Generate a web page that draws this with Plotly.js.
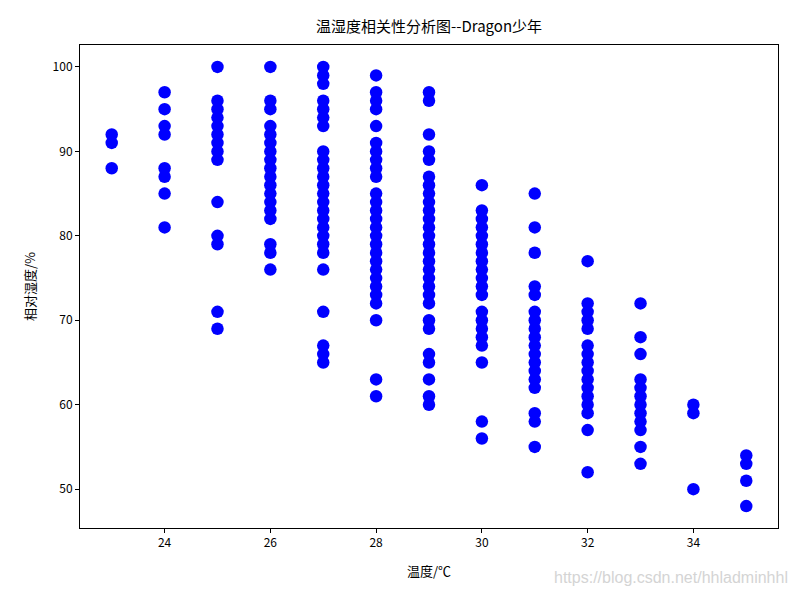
<!DOCTYPE html>
<html>
<head>
<meta charset="utf-8">
<script src="https://cdn.plot.ly/plotly-3.0.1.min.js"></script>
<style>html,body{margin:0;padding:0;background:#fff;}#chart{width:799px;height:597px;}</style>
</head>
<body>
<div id="chart"></div>
<script>
// Humidity readings grouped by temperature (°C)
const hum23 = [92, 91, 88];
const hum24 = [97, 95, 93, 92, 88, 87, 85, 81];
const hum25 = [100, 96, 95, 94, 93, 92, 91, 90, 89, 84, 80, 79, 71, 69];
const hum26 = [100, 96, 95, 93, 92, 91, 90, 89, 88, 87, 86, 85, 84, 83, 82, 79, 78, 76];
const hum27 = [100, 99, 98, 96, 95, 94, 93, 90, 89, 88, 87, 86, 85, 84, 83, 82, 81, 80, 79, 78, 76, 71, 67, 66, 65];
const hum28 = [99, 97, 96, 95, 93, 91, 90, 89, 88, 87, 85, 84, 83, 82, 81, 80, 79, 78, 77, 76, 75, 74, 73, 72, 70, 63, 61];
const hum29 = [97, 96, 92, 90, 89, 87, 86, 85, 84, 83, 82, 81, 80, 79, 78, 77, 76, 75, 74, 73, 72, 70, 69, 66, 65, 63, 61, 60];
const hum30 = [86, 83, 82, 81, 80, 79, 78, 77, 76, 75, 74, 73, 71, 70, 69, 68, 67, 65, 58, 56];
const hum31 = [85, 81, 78, 74, 73, 71, 70, 69, 68, 67, 66, 65, 64, 63, 62, 59, 58, 55];
const hum32 = [77, 72, 71, 70, 69, 67, 66, 65, 64, 63, 62, 61, 60, 59, 57, 52];
const hum33 = [72, 68, 66, 63, 62, 61, 60, 59, 58, 57, 55, 53];
const hum34 = [60, 59, 50];
const hum35 = [54, 53, 51, 48];

const temps = [23, 24, 25, 26, 27, 28, 29, 30, 31, 32, 33, 34, 35];
const humByTemp = [hum23, hum24, hum25, hum26, hum27, hum28, hum29, hum30, hum31, hum32, hum33, hum34, hum35];

const xTicks = [24, 26, 28, 30, 32, 34];
const yTicks = [50, 60, 70, 80, 90, 100];

const titleText = '温湿度相关性分析图--Dragon少年';
const xLabel = '温度/℃';
const yLabel = '相对湿度/%';
const watermark = 'https://blog.csdn.net/hhladminhhl';

const xs = [], ys = [];
temps.forEach((t, i) => humByTemp[i].forEach(h => { xs.push(t); ys.push(h); }));

const cjk = '"Noto Sans CJK SC", "DejaVu Sans", sans-serif';

const data = [{
  type: 'scatter', mode: 'markers', x: xs, y: ys,
  marker: {color: '#0000ff', size: 12.5, line: {width: 0}},
  hoverinfo: 'x+y'
}];

const axisCommon = {
  showgrid: false, zeroline: false, showline: true, mirror: true,
  linecolor: '#000', linewidth: 1, ticks: 'outside', ticklen: 4, tickwidth: 1,
  tickcolor: '#000', tickfont: {family: cjk, size: 12, color: '#000'}
};

const layout = {
  width: 799, height: 597,
  margin: {l: 80, r: 21, t: 45, b: 69},
  paper_bgcolor: '#fff', plot_bgcolor: '#fff',
  showlegend: false,
  title: {text: titleText, x: 0.537, xanchor: 'center', y: 0.955, yanchor: 'middle',
          font: {family: cjk, size: 15, color: '#000'}},
  xaxis: Object.assign({}, axisCommon, {
    range: [22.4, 35.6], tickvals: xTicks, ticktext: xTicks.map(String),
    title: {text: xLabel, font: {family: cjk, size: 13, color: '#000'}, standoff: 17}
  }),
  yaxis: Object.assign({}, axisCommon, {
    range: [45.4, 102.6], tickvals: yTicks, ticktext: yTicks.map(String),
    title: {text: yLabel, font: {family: cjk, size: 13, color: '#000'}, standoff: 14}
  }),
  annotations: [{
    text: watermark, xref: 'paper', yref: 'paper', x: 1.017, y: -0.103,
    xanchor: 'right', yanchor: 'middle', showarrow: false,
    font: {family: 'Liberation Sans, Arial, sans-serif', size: 16, color: '#d4d4d4'}
  }]
};

Plotly.newPlot('chart', data, layout, {displayModeBar: false, staticPlot: true});
</script>
</body>
</html>
